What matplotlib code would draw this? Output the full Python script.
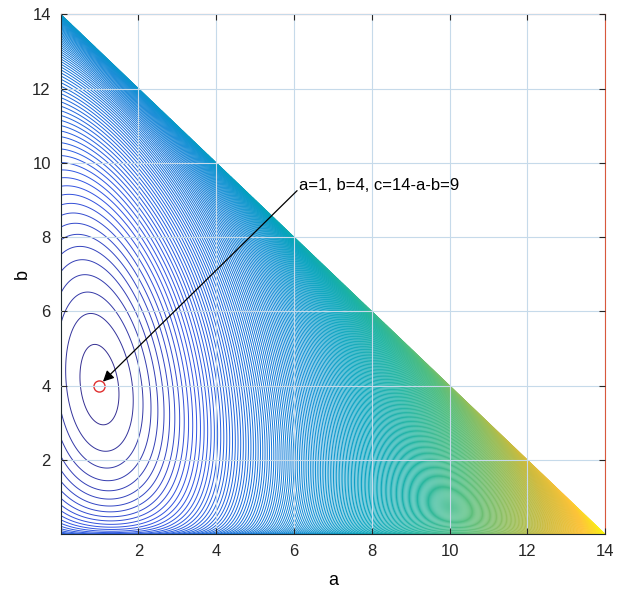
import numpy as np
import matplotlib.pyplot as plt
from matplotlib.colors import LinearSegmentedColormap, PowerNorm

plt.rcParams['font.family'] = ['Liberation Sans', 'DejaVu Sans']

# problem: a + b + c = 14, optimum at a=1, b=4, c=9
total = 14
a_opt, b_opt = 1, 4
c_opt = total - a_opt - b_opt
b_lin, b_root = 4.0, 8.0     # b term: b_lin*b - b_root*sqrt(b)
c_lin, c_root = 6.0, 24.0    # c term: c_lin*c - c_root*sqrt(c)
n_levels = 400
color_gamma = 0.65
ticks = [2, 4, 6, 8, 10, 12, 14]
label = "a=1, b=4, c=14-a-b=9"

# parula-like colormap
parula = LinearSegmentedColormap.from_list("parula", [
    (0.2081, 0.1663, 0.5292), (0.1986, 0.3282, 0.8878),
    (0.0847, 0.4484, 0.8589), (0.0592, 0.5596, 0.8303),
    (0.0165, 0.6389, 0.7468), (0.1157, 0.7042, 0.6326),
    (0.3063, 0.7434, 0.5019), (0.5709, 0.7460, 0.3638),
    (0.8113, 0.7336, 0.2390), (0.9932, 0.7655, 0.2199),
    (0.9763, 0.9831, 0.0538)])

a = np.linspace(0, total, 901)
b = np.linspace(0, total, 901)
A, B = np.meshgrid(a, b)
C = total - A - B
Cc = np.clip(C, 0, None)
Z = A**2 / a_opt + (b_lin * B - b_root * np.sqrt(B)) \
    + (c_lin * Cc - c_root * np.sqrt(Cc))
Z = np.ma.masked_where(C < -1e-9, Z)
Z = Z - Z.min()

fig = plt.figure(figsize=(6.31, 5.93), dpi=100)
ax = fig.add_axes([0.096, 0.099, 0.863, 0.877])

step = Z.max() / n_levels
levels = (np.arange(n_levels) + 0.5) * step
ax.contour(A, B, Z, levels=levels, cmap=parula, linewidths=0.7,
           norm=PowerNorm(color_gamma, vmin=0, vmax=Z.max()))

ax.plot(a_opt, b_opt, 'o', mfc='none', mec='#e03030', ms=8, mew=1)
ax.annotate('', xy=(1.09, 4.11), xytext=(6.08, 9.25),
            arrowprops=dict(arrowstyle='-|>', color='k', lw=0.9,
                            shrinkA=0, shrinkB=0, mutation_scale=16))
ax.text(6.12, 9.38, label, fontsize=12, va='center', ha='left')

ax.set_xlim(0, total)
ax.set_ylim(0, total)
ax.set_xticks(ticks)
ax.set_yticks(ticks)
ax.tick_params(direction='in', top=True, right=True, length=4, pad=7,
               labelsize=12, colors='#262626')
ax.grid(True, color='#c6daea', lw=0.8)
ax.set_axisbelow(False)
for s in ['left', 'bottom']:
    ax.spines[s].set_color('#1f2a30')
for s in ['top', 'right']:
    ax.spines[s].set_color('#d8583c')
ax.set_xlabel('a', fontsize=13, labelpad=9)
ax.set_ylabel('b', fontsize=13, labelpad=1)

fig.savefig('out.png', dpi=100)
